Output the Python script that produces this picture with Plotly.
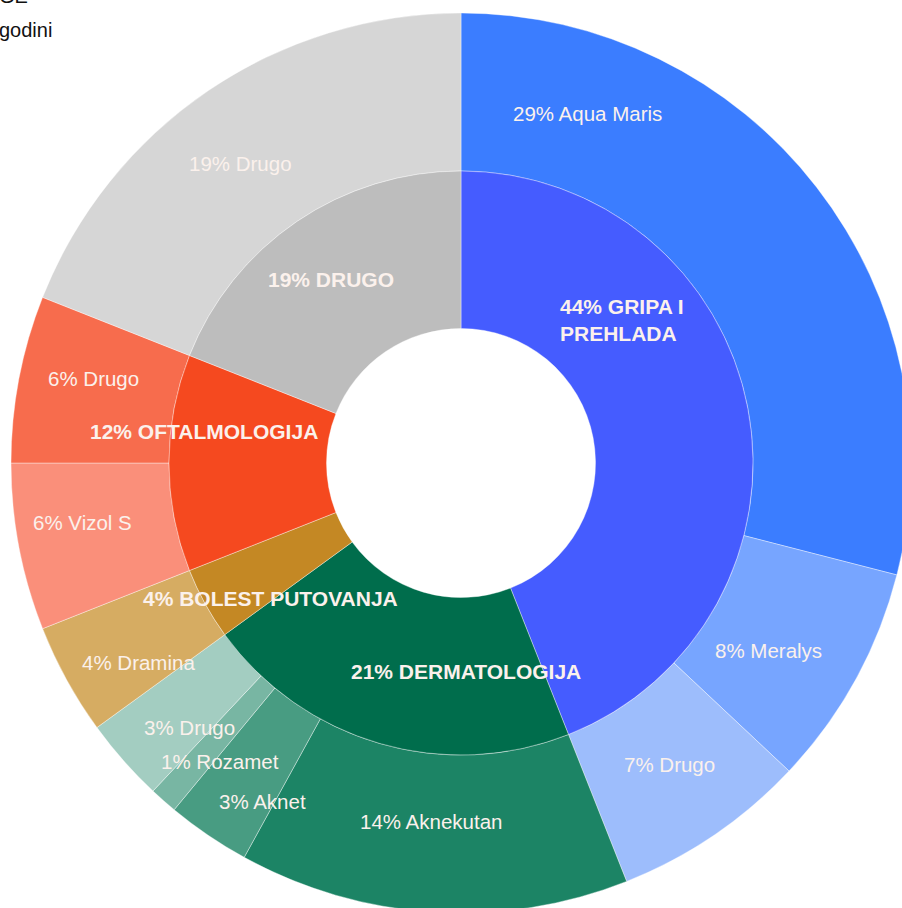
import math
import plotly.graph_objects as go

# ---------------- data ----------------
categories = ["Gripa i prehlada", "Dermatologija", "Bolest putovanja", "Oftalmologija", "Drugo"]
category_values = [44, 21, 4, 12, 19]

brand_names = ["Aqua Maris", "Meralys", "Drugo", "Aknekutan", "Aknet", "Rozamet",
               "Drugo", "Dramina", "Vizol S", "Drugo", "Drugo"]
brand_values = [29, 8, 7, 14, 3, 1, 3, 4, 6, 6, 19]
brand_category = [0, 0, 0, 1, 1, 1, 1, 2, 3, 3, 4]

title_tail = "GE"
subtitle_tail = "godini"

# ---------------- styles ----------------
category_colors = ["#455CFF", "#006D4C", "#C48824", "#F5491F", "#BDBDBD"]
brand_colors = ["#3B7DFF", "#77A5FF", "#9DBDFC", "#1C8465", "#489C82", "#78B6A3",
                "#A3CDC1", "#D6AC62", "#FA8F7A", "#F76C4D", "#D6D6D6"]
label_color = "#FBF1EC"
FONT = "Liberation Sans, Arial, sans-serif"

W, H = 922, 926          # figure larger than the 902x908 window -> right/bottom cropped
CX, CY = 461, 463        # pie centre (px)
R_OUT, R_MID, R_HOLE = 450, 292, 134.5

# label placement (angle shift from slice mid-angle in degrees, radius in px)
outer_label_shift = [-32.3, 2.5, -0.5, 1.2, -3.8, -2.5, -2.8, -3.0, 1.8, 2.1, -2.1]
outer_label_radius = [372, 360, 367, 360, 392, 384, 379, 379, 383, 377, 372]
inner_label_shift = [-30.6, -17.7, -6.7, 7.0, -1.0]
inner_label_radius = [216, 209, 234, 259, 225]


def dom_x(cx, r):
    return [(cx - r) / W, (cx + r) / W]


def dom_y(cy, r):
    return [(H - (cy + r)) / H, (H - (cy - r)) / H]


def mid_angles(values):
    tot = float(sum(values))
    out, acc = [], 0.0
    for v in values:
        out.append((acc + v / 2.0) / tot * 360.0)
        acc += v
    return out


def to_paper(angle_deg, r):
    a = math.radians(angle_deg)
    px = CX + r * math.sin(a)
    py = CY - r * math.cos(a)
    return px / W, 1 - py / H


fig = go.Figure()

fig.add_trace(go.Pie(
    values=brand_values,
    labels=[f"{n} ({categories[c]})" for n, c in zip(brand_names, brand_category)],
    sort=False, direction="clockwise", rotation=0,
    hole=R_MID / R_OUT,
    domain=dict(x=dom_x(CX, R_OUT), y=dom_y(CY, R_OUT)),
    marker=dict(colors=brand_colors, line=dict(color="rgba(255,255,255,0.55)", width=0.7)),
    textinfo="none", hoverinfo="label+value",
))

fig.add_trace(go.Pie(
    values=category_values,
    labels=categories,
    sort=False, direction="clockwise", rotation=0,
    hole=R_HOLE / R_MID,
    domain=dict(x=dom_x(CX, R_MID), y=dom_y(CY, R_MID)),
    marker=dict(colors=category_colors, line=dict(color="rgba(255,255,255,0.55)", width=0.7)),
    textinfo="none", hoverinfo="label+value",
))

annotations = []
for name, v, ang, sh, r in zip(brand_names, brand_values, mid_angles(brand_values),
                               outer_label_shift, outer_label_radius):
    x, y = to_paper(ang + sh, r)
    annotations.append(dict(
        text=f"{v}% {name}", x=x, y=y, xref="paper", yref="paper",
        xanchor="center", yanchor="middle", showarrow=False,
        font=dict(family=FONT, size=20.5, color=label_color)))

for i, (name, v, ang, sh, r) in enumerate(zip(categories, category_values, mid_angles(category_values),
                                              inner_label_shift, inner_label_radius)):
    x, y = to_paper(ang + sh, r)
    txt = f"{v}% {name.upper()}"
    anchor = "center"
    if i == 0:
        words = txt.split(" ")
        txt = " ".join(words[:3]) + "<br>" + " ".join(words[3:])
        anchor = "left"
        x = (CX + r * math.sin(math.radians(ang + sh)) - 65) / W
    annotations.append(dict(
        text=f"<b>{txt}</b>", x=x, y=y, xref="paper", yref="paper",
        xanchor=anchor, yanchor="middle", align="left", showarrow=False,
        font=dict(family=FONT, size=21, color=label_color)))

# cropped heading lines at top-left
annotations.append(dict(text=title_tail, x=-3 / W, y=1 - (-3.6) / H, xref="paper", yref="paper",
                        xanchor="left", yanchor="middle", showarrow=False,
                        font=dict(family=FONT, size=20, color="#111111")))
annotations.append(dict(text=subtitle_tail, x=-3 / W, y=1 - 29.8 / H, xref="paper", yref="paper",
                        xanchor="left", yanchor="middle", showarrow=False,
                        font=dict(family=FONT, size=20, color="#111111")))

fig.update_layout(
    width=W, height=H,
    margin=dict(l=0, r=0, t=0, b=0),
    paper_bgcolor="white", plot_bgcolor="white",
    showlegend=False,
    annotations=annotations,
)

fig.write_html(
    "out.html",
    config={"displayModeBar": False},
    post_script="document.documentElement.style.overflow='hidden';"
                "document.body.style.overflow='hidden';"
                "document.body.style.margin='0px';",
)
